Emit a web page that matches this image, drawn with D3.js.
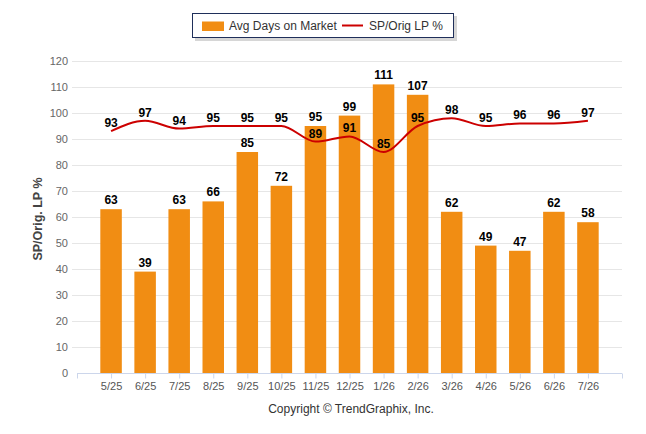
<!DOCTYPE html>
<html>
<head>
<meta charset="utf-8">
<script src="https://cdn.jsdelivr.net/npm/d3@7"></script>
<style>
  html, body { margin: 0; padding: 0; background: #fff; }
  svg { display: block; font-family: "Liberation Sans", Arial, sans-serif; }
</style>
</head>
<body>
<svg id="chart" width="646" height="434"></svg>
<script>
const categories = ["5/25","6/25","7/25","8/25","9/25","10/25","11/25","12/25","1/26","2/26","3/26","4/26","5/26","6/26","7/26"];
const avgDays = [63, 39, 63, 66, 85, 72, 95, 99, 111, 107, 62, 49, 47, 62, 58];
const spOrig = [93, 97, 94, 95, 95, 95, 89, 91, 85, 95, 98, 95, 96, 96, 97];
const yTicks = [0, 10, 20, 30, 40, 50, 60, 70, 80, 90, 100, 110, 120];

(function () {
const svg = d3.select("#chart");
const pLeft = 77, pRight = 622, pTop = 61, pBottom = 373;

const x = d3.scalePoint().domain(categories).range([pLeft, pRight]).padding(1);
const y = d3.scaleLinear().domain([0, 120]).range([pBottom, pTop]);
const barW = 21.5;

// gridlines
svg.append("g").selectAll("line").data(yTicks.filter(t => t > 0)).join("line")
  .attr("x1", 72).attr("x2", pRight)
  .attr("y1", d => y(d) + 0.5).attr("y2", d => y(d) + 0.5)
  .attr("stroke", "#e6e6e6").attr("stroke-width", 1);

// y axis labels
const yAxis = d3.axisLeft(y).tickValues(yTicks).tickSize(0).tickPadding(0);
const yg = svg.append("g").attr("transform", `translate(68,0)`).call(yAxis);
yg.select(".domain").remove();
yg.selectAll("text").attr("fill", "#666").style("font-size", "11px").attr("dy", "0.35em");

// bars
svg.append("g").selectAll("rect").data(avgDays).join("rect")
  .attr("x", (d, i) => x(categories[i]) - barW / 2)
  .attr("width", barW)
  .attr("y", d => y(d))
  .attr("height", d => y(0) - y(d))
  .attr("fill", "#F18D13");

// x axis
const xAxis = d3.axisBottom(x).tickSize(5).tickPadding(4);
const xg = svg.append("g").attr("transform", `translate(0,${pBottom + 0.5})`).call(xAxis);
xg.select(".domain").attr("stroke", "#ccd6eb").attr("d", `M${pLeft},0H${pRight}`);
xg.selectAll(".tick line").attr("stroke", "#ccd6eb");
xg.selectAll("text").attr("fill", "#555").style("font-size", "11px");
xg.selectAll(".endtick").data([pLeft, pRight]).join("line")
  .attr("class", "endtick")
  .attr("x1", d => d + 0.5).attr("x2", d => d + 0.5).attr("y1", 0).attr("y2", 5)
  .attr("stroke", "#ccd6eb");

// line
const line = d3.line()
  .x((d, i) => x(categories[i]))
  .y(d => y(d))
  .curve(d3.curveMonotoneX);
svg.append("path").datum(spOrig)
  .attr("d", line)
  .attr("fill", "none")
  .attr("stroke", "#CC0000")
  .attr("stroke-width", 2);

// bar labels
svg.append("g").selectAll("text").data(avgDays).join("text")
  .attr("x", (d, i) => x(categories[i]))
  .attr("y", d => y(d) - 5)
  .attr("text-anchor", "middle")
  .style("font-size", "12px").style("font-weight", "bold")
  .attr("fill", "#000")
  .text(d => d);

// line labels
svg.append("g").selectAll("text").data(spOrig).join("text")
  .attr("x", (d, i) => x(categories[i]))
  .attr("y", d => y(d) - 4)
  .attr("text-anchor", "middle")
  .style("font-size", "12px").style("font-weight", "bold")
  .attr("fill", "#000")
  .text(d => d);

// y axis title
svg.append("text")
  .attr("transform", `translate(42,219) rotate(-90)`)
  .attr("text-anchor", "middle")
  .style("font-size", "12.5px").style("font-weight", "bold")
  .attr("fill", "#444")
  .text("SP/Orig. LP %");

// legend
const lg = svg.append("g");
lg.append("rect").attr("x", 195).attr("y", 16).attr("width", 262).attr("height", 25)
  .attr("fill", "#bbb").attr("opacity", 0.6);
lg.append("rect").attr("x", 192.5).attr("y", 13.5).attr("width", 261).attr("height", 24)
  .attr("fill", "#fff").attr("stroke", "#1f2f5a").attr("stroke-width", 1);
lg.append("rect").attr("x", 202).attr("y", 21.5).attr("width", 22).attr("height", 9.5).attr("fill", "#F18D13");
lg.append("text").attr("x", 229).attr("y", 30).style("font-size", "12px").attr("fill", "#333").text("Avg Days on Market");
lg.append("line").attr("x1", 342).attr("x2", 363).attr("y1", 25.5).attr("y2", 25.5)
  .attr("stroke", "#CC0000").attr("stroke-width", 2);
lg.append("text").attr("x", 369).attr("y", 30).style("font-size", "12px").attr("fill", "#333").text("SP/Orig LP %");

// copyright
svg.append("text").attr("x", 351).attr("y", 413).attr("text-anchor", "middle")
  .style("font-size", "12px").attr("fill", "#333")
  .text("Copyright © TrendGraphix, Inc.");
})();
</script>
</body>
</html>
